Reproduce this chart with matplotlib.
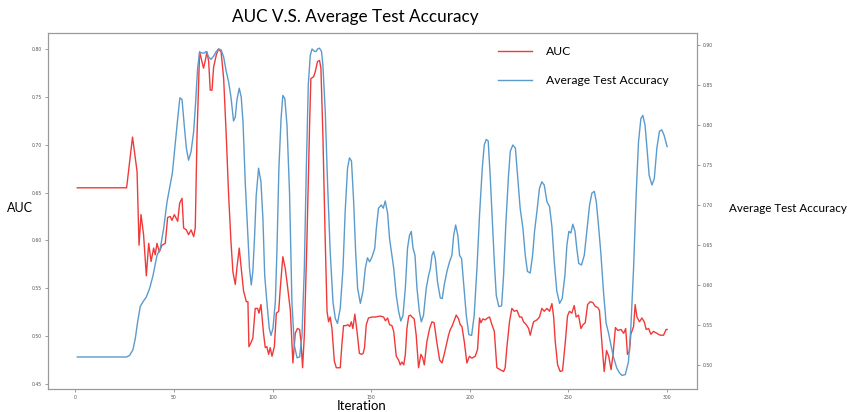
import matplotlib
matplotlib.use("Agg")
import matplotlib.pyplot as plt

# AUC curve (iteration, value)
auc_iter = [1, 26, 29, 31.3, 32.3, 33.3, 34.6, 36, 37.2, 38.4, 39.7, 40.5, 41.4, 42.6, 43.9,
            45.6, 46.8, 48.1, 49, 50.2, 51.9, 52.9, 54.1, 54.9, 56.3, 57.4, 58.7, 60, 60.8,
            61.7, 63, 64.2, 65, 65.9, 66.7, 67.6, 68.4, 69.3, 70.1, 71.5, 72.6, 73.9, 75.2,
            76.5, 77.7, 78.9, 79.9, 81.1, 81.9, 83.1, 84.1, 85.3, 86.7, 87.5, 88, 89, 90,
            91.2, 92.4, 93.1, 94.1, 95.4, 96.3, 97.1, 98, 98.8, 99.7, 100.9, 101.9, 103.1,
            103.9, 105.2, 106.4, 107.4, 109, 110.3, 111.5, 112.6, 113.7, 114.4, 115.2, 116.1,
            117.4, 118.8, 119.4, 120.8, 121.6, 122.8, 123.8, 124.5, 125.5, 126.7, 127.6,
            128.4, 129.2, 130.1, 131.3, 132.3, 133.5, 134.3, 135.2, 136, 137.2, 138.2, 139.1,
            139.9, 140.7, 141.7, 142.8, 144, 145.1, 145.9, 146.6, 147.5, 148.6, 150.4, 152.1,
            154.6, 156.3, 157.2, 158.3, 159.3, 160.5, 161.4, 162.7, 163.9, 164.7, 165.6,
            166.5, 167.3, 168.1, 169, 169.8, 170.7, 171.8, 172.8, 174, 175.2, 176, 176.9,
            178.2, 179.6, 180.8, 181.9, 183.3, 184.7, 185.9, 187, 188.4, 189.2, 190.1, 190.9,
            191.8, 193.1, 194.3, 195.1, 196, 197.2, 198.5, 199.8, 201, 202.7, 203.9, 204.9,
            205.6, 206.6, 207.8, 209, 210, 211.2, 212.4, 213.7, 215.4, 217.1, 217.9, 218.8,
            220.1, 221.3, 222.5, 223.9, 225.2, 226.3, 227.2, 228.6, 229.8, 230.6, 231.4,
            232.3, 234, 235.3, 236.5, 237.7, 239.1, 240.4, 241.6, 242.5, 243.3, 244.5, 245.8,
            247, 248.4, 249.5, 250.5, 251.7, 252.9, 253.9, 255.1, 256.3, 257.4, 258.5, 259.7,
            261, 262.4, 263.6, 264.8, 265.7, 266.9, 268.1, 269.3, 270.4, 271.6, 272.6, 273.8,
            275, 276.6, 278, 279, 279.9, 280.9, 281.6, 283, 283.8, 284.7, 286, 287.2, 288.4,
            289.4, 290.6, 291.8, 293.1, 294.8, 296.5, 298.2, 299.5, 300]
auc_val = [0.655, 0.655, 0.708, 0.672, 0.595, 0.627, 0.606, 0.563, 0.597, 0.578, 0.592, 0.585,
           0.597, 0.588, 0.595, 0.597, 0.624, 0.625, 0.621, 0.627, 0.620, 0.639, 0.644, 0.613,
           0.611, 0.606, 0.611, 0.604, 0.613, 0.710, 0.797, 0.787, 0.780, 0.788, 0.797, 0.787,
           0.757, 0.757, 0.781, 0.794, 0.800, 0.797, 0.769, 0.710, 0.648, 0.599, 0.567, 0.554,
           0.571, 0.592, 0.571, 0.547, 0.536, 0.536, 0.489, 0.493, 0.498, 0.529, 0.529, 0.524,
           0.533, 0.503, 0.488, 0.489, 0.481, 0.488, 0.479, 0.489, 0.524, 0.526, 0.550, 0.583,
           0.571, 0.555, 0.527, 0.472, 0.503, 0.508, 0.507, 0.494, 0.467, 0.501, 0.599, 0.724,
           0.769, 0.771, 0.776, 0.787, 0.788, 0.780, 0.710, 0.599, 0.526, 0.515, 0.520, 0.508,
           0.474, 0.467, 0.467, 0.467, 0.493, 0.511, 0.511, 0.512, 0.510, 0.515, 0.508, 0.523,
           0.505, 0.482, 0.481, 0.482, 0.488, 0.512, 0.519, 0.520, 0.520, 0.521, 0.520, 0.516,
           0.519, 0.512, 0.511, 0.505, 0.479, 0.475, 0.470, 0.473, 0.470, 0.481, 0.508, 0.521,
           0.522, 0.520, 0.518, 0.501, 0.467, 0.481, 0.478, 0.470, 0.494, 0.508, 0.515, 0.514,
           0.493, 0.475, 0.472, 0.481, 0.494, 0.501, 0.507, 0.510, 0.515, 0.522, 0.518, 0.512,
           0.510, 0.494, 0.472, 0.479, 0.477, 0.479, 0.486, 0.519, 0.514, 0.518, 0.517, 0.519,
           0.520, 0.512, 0.505, 0.467, 0.465, 0.463, 0.467, 0.489, 0.515, 0.529, 0.526, 0.527,
           0.520, 0.520, 0.515, 0.512, 0.508, 0.501, 0.508, 0.515, 0.517, 0.520, 0.529, 0.526,
           0.529, 0.526, 0.534, 0.520, 0.494, 0.470, 0.463, 0.464, 0.494, 0.521, 0.526, 0.524,
           0.532, 0.520, 0.522, 0.508, 0.512, 0.514, 0.533, 0.536, 0.535, 0.531, 0.530, 0.527,
           0.494, 0.463, 0.485, 0.479, 0.465, 0.481, 0.509, 0.506, 0.507, 0.503, 0.508, 0.481,
           0.484, 0.502, 0.510, 0.533, 0.520, 0.515, 0.519, 0.515, 0.507, 0.508, 0.502, 0.505,
           0.503, 0.501, 0.501, 0.507, 0.507]

# average test accuracy curve (right axis)
acc_iter = [1, 26, 27.5, 29.2, 30.4, 31.6, 32.9, 34.3, 36, 37.7, 39.4, 41.4, 43.1, 44.8, 46.5,
            47.8, 49.2, 50.7, 51.9, 53, 54.1, 55.2, 56.3, 57.4, 58.7, 60, 61, 62, 63, 64.2,
            65.4, 66.4, 67.6, 68.8, 70.1, 71.5, 72.6, 73.9, 75.2, 76.5, 77.7, 78.9, 80.2, 81.1,
            81.9, 83.1, 84.1, 85, 86.2, 87.3, 88.3, 89.2, 90, 90.9, 91.7, 92.9, 94.1, 95.1, 96,
            97.1, 98.3, 99.2, 100.2, 101.4, 102.2, 103.2, 104.3, 105.2, 106.2, 107.3, 108.6,
            109.8, 111, 112.4, 113.7, 114.9, 116.1, 117.1, 118.1, 119.1, 120, 121.3, 122.1,
            122.8, 123.8, 124.8, 125.5, 126.7, 127.9, 129.2, 130.6, 131.8, 132.9, 134.3, 135.7,
            136.8, 138, 139, 140, 141.1, 142.1, 143.1, 144.5, 145.8, 147, 148.1, 149.2, 150.4,
            151.8, 152.6, 153.7, 155.1, 156.1, 157.1, 158.3, 159.3, 160.5, 161.4, 162.7, 163.9,
            165, 166.1, 167.3, 168.4, 169.4, 170.3, 171.2, 172.2, 173.2, 174.4, 175.4, 176.5,
            177.9, 179.1, 180, 180.8, 181.6, 182.5, 183.6, 185, 186, 187, 188.4, 189.7, 190.9,
            191.8, 192.8, 193.9, 194.8, 195.8, 196.8, 198.2, 199.5, 200.9, 202.2, 203.6, 204.9,
            206.3, 207.3, 208.3, 209.3, 210.3, 211.4, 212.4, 213.4, 214.7, 216.1, 217.1, 218.3,
            219.6, 220.5, 221.8, 223.1, 224.2, 225.5, 226.9, 228.1, 229.2, 230.6, 231.8, 232.8,
            234, 235.3, 236.5, 237.7, 239.1, 240.4, 241.6, 242.8, 244.1, 245.5, 246.8, 248.2,
            249.2, 250.2, 251.2, 252.2, 253.3, 254.2, 255.2, 256.6, 258, 259.3, 260.7, 261.9,
            263.1, 264.1, 265.2, 266.4, 267.8, 269.1, 270.3, 271.6, 272.8, 274.5, 275.9, 277.1,
            278.8, 280.4, 281.6, 283, 284.3, 285.5, 286.7, 287.7, 288.8, 289.8, 290.9, 292.3,
            293.5, 294.8, 296.1, 297.3, 298.5, 300]
acc_val = [0.510, 0.510, 0.512, 0.519, 0.533, 0.554, 0.573, 0.579, 0.585, 0.596, 0.612, 0.637,
           0.646, 0.671, 0.704, 0.721, 0.740, 0.778, 0.808, 0.834, 0.832, 0.800, 0.771, 0.756,
           0.767, 0.792, 0.829, 0.871, 0.891, 0.890, 0.890, 0.892, 0.885, 0.882, 0.886, 0.892,
           0.895, 0.894, 0.885, 0.867, 0.854, 0.835, 0.805, 0.810, 0.831, 0.846, 0.835, 0.804,
           0.725, 0.671, 0.621, 0.600, 0.617, 0.662, 0.712, 0.746, 0.729, 0.683, 0.612, 0.579,
           0.546, 0.537, 0.546, 0.579, 0.642, 0.746, 0.808, 0.837, 0.833, 0.800, 0.715, 0.579,
           0.525, 0.509, 0.510, 0.537, 0.621, 0.746, 0.850, 0.887, 0.895, 0.892, 0.892, 0.895,
           0.896, 0.892, 0.875, 0.817, 0.725, 0.642, 0.579, 0.558, 0.552, 0.571, 0.621, 0.692,
           0.746, 0.759, 0.755, 0.704, 0.642, 0.596, 0.577, 0.592, 0.621, 0.634, 0.629, 0.635,
           0.646, 0.671, 0.696, 0.700, 0.696, 0.705, 0.690, 0.658, 0.637, 0.621, 0.587, 0.567,
           0.555, 0.562, 0.596, 0.646, 0.662, 0.667, 0.646, 0.637, 0.596, 0.567, 0.554, 0.562,
           0.596, 0.612, 0.621, 0.637, 0.642, 0.633, 0.604, 0.584, 0.583, 0.600, 0.617, 0.629,
           0.637, 0.662, 0.675, 0.662, 0.637, 0.633, 0.604, 0.562, 0.538, 0.537, 0.562, 0.621,
           0.687, 0.746, 0.775, 0.782, 0.780, 0.737, 0.679, 0.629, 0.587, 0.573, 0.574, 0.612,
           0.679, 0.737, 0.767, 0.775, 0.771, 0.737, 0.696, 0.671, 0.637, 0.617, 0.615, 0.637,
           0.667, 0.692, 0.721, 0.729, 0.725, 0.704, 0.698, 0.673, 0.629, 0.592, 0.577, 0.583,
           0.612, 0.650, 0.667, 0.665, 0.676, 0.667, 0.646, 0.627, 0.625, 0.637, 0.667, 0.700,
           0.715, 0.717, 0.704, 0.675, 0.640, 0.590, 0.552, 0.540, 0.524, 0.510, 0.496, 0.490,
           0.487, 0.488, 0.504, 0.546, 0.621, 0.712, 0.779, 0.808, 0.812, 0.800, 0.771, 0.737,
           0.725, 0.733, 0.771, 0.792, 0.794, 0.787, 0.773]

x_ticks = [0, 50, 100, 150, 200, 250, 300]
auc_ticks = [0.45, 0.50, 0.55, 0.60, 0.65, 0.70, 0.75, 0.80]
acc_ticks = [0.50, 0.55, 0.60, 0.65, 0.70, 0.75, 0.80, 0.85, 0.90]

W, H = 850, 412
RED = "#f03a3a"
BLUE = "#5b9bcc"
TXT_FONT = ["Lato", "DejaVu Sans"]


def fx(px):
    return px / W


def fy(py):
    return 1 - py / H


fig = plt.figure(figsize=(W / 100, H / 100), dpi=100)
ax = fig.add_axes([fx(47.7), fy(389), (696.7 - 47.7) / W, (389 - 33) / H])
ax2 = ax.twinx()

l1, = ax.plot(auc_iter, auc_val, color=RED, linewidth=1.0)
l2, = ax2.plot(acc_iter, acc_val, color=BLUE, linewidth=1.0)

ax.set_xlim(-14, 315)
ax.set_ylim(0.4448, 0.8167)
ax2.set_ylim(0.47, 0.915)
ax.set_xticks(x_ticks)
ax.set_yticks(auc_ticks)
ax2.set_yticks(acc_ticks)
ax.set_yticklabels(["%.2f" % t for t in auc_ticks])
ax2.set_yticklabels(["%.2f" % t for t in acc_ticks])

for a in (ax, ax2):
    a.tick_params(labelsize=3.3, labelcolor="#555555", color="#777777",
                  length=2, width=0.5, pad=2)
    for s in a.spines.values():
        s.set_color("#999999")
        s.set_linewidth(0.8)

fig.text(fx(355), fy(17), "AUC V.S. Average Test Accuracy", ha="center", va="center",
         fontsize=12.3, family=TXT_FONT)
fig.text(fx(20), fy(208), "AUC", ha="center", va="center", fontsize=9, family=TXT_FONT)
fig.text(fx(788), fy(208), "Average Test Accuracy", ha="center", va="center",
         fontsize=8.4, family=TXT_FONT)
fig.text(fx(362), fy(406), "Iteration", ha="center", va="center", fontsize=9.5,
         family=TXT_FONT)

fig.legend([l1, l2], ["AUC", "Average Test Accuracy"], loc="upper left",
           bbox_to_anchor=(fx(498), fy(46)), frameon=False, borderpad=0, borderaxespad=0,
           handlelength=2.8, handletextpad=1.2, labelspacing=1.5,
           prop={"family": TXT_FONT, "size": 8.7})

fig.savefig("out.png", dpi=100)
